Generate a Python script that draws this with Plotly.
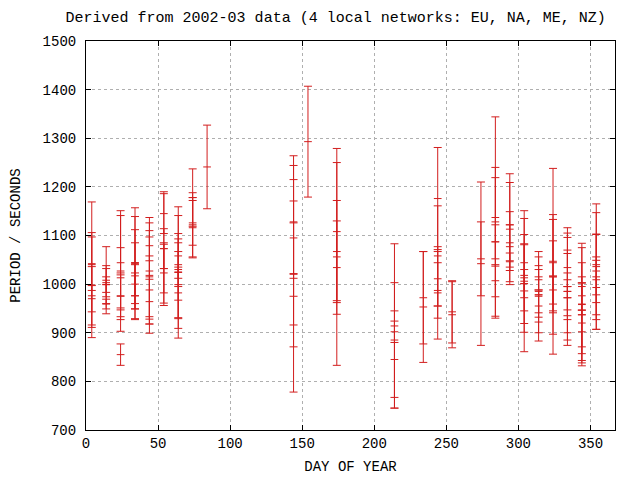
import plotly.graph_objects as go

# Day-of-year columns and (period, error) readings for each column
days = [4, 14, 24, 34, 44, 54, 64, 74, 84, 144, 154, 174, 214, 234, 244, 254,
        274, 284, 294, 304, 314, 324, 334, 344, 354]

periods = [
    [1040, 998, 976, 970, 1042],
    [1008, 999, 1003, 999, 959],
    [1027, 1013, 1044, 976, 975, 855],
    [1042, 1044, 1000, 976, 1044, 1017],
    [1018, 1027, 1079, 1015, 988, 964],
    [1073, 1145, 1073, 1023, 1032],
    [1024, 1025, 1030, 1058, 999, 1040, 982],
    [1178, 1116, 1122, 1126],
    [1241],
    [1021, 1021, 1021, 1095, 1128],
    [1293],
    [1056, 1108, 1067, 1034],
    [914, 885, 845, 902],
    [953, 972],
    [1176, 982, 1058, 1011, 987],
    [943, 937],
    [1042, 1052],
    [1137, 1087, 1128, 1007, 1087],
    [1113, 1085, 1046, 1077, 1122],
    [1006, 1018, 1044, 1001, 1013, 1001],
    [975, 978, 985, 978, 1009, 955],
    [1047, 1015, 1044, 1015, 988],
    [995, 995, 985, 1034, 985, 995, 972],
    [958, 959, 937, 902, 976, 920, 995],
    [1036, 1027, 1015, 1040, 993, 1009],
]

errors = [
    [129, 108, 60, 27, 55],
    [69, 39, 29, 16, 10],
    [124, 62, 97, 43, 48, 22],
    [115, 95, 40, 47, 68, 68],
    [119, 99, 31, 82, 70, 46],
    [117, 41, 41, 62, 50],
    [135, 116, 63, 46, 68, 45, 53],
    [59, 62, 66, 46],
    [86],
    [243, 105, 150, 120, 116],
    [114],
    [223, 142, 105, 96],
    [169, 118, 100, 22],
    [114, 95],
    [105, 95, 103, 56, 57],
    [64, 68],
    [168, 76],
    [207, 153, 91, 33, 35],
    [114, 37, 18, 72, 87],
    [145, 117, 58, 82, 68, 29],
    [92, 78, 53, 37, 21, 33],
    [191, 118, 99, 74, 29],
    [121, 110, 85, 62, 38, 68, 37],
    [126, 116, 66, 45, 39, 82, 49],
    [129, 120, 88, 62, 56, 47],
]

title_text = "Derived from 2002-03 data (4 local networks: EU, NA, ME, NZ)"
x_title = "DAY OF YEAR"
y_title = "PERIOD / SECONDS"

xs, ys, es = [], [], []
for d, ps, er in zip(days, periods, errors):
    for p, e in zip(ps, er):
        xs.append(d)
        ys.append(p)
        es.append(e)

red = "rgb(210,30,30)"
font_family = "Liberation Mono, DejaVu Sans Mono, monospace"

fig = go.Figure()
fig.add_trace(go.Scatter(
    x=xs, y=ys, mode="markers",
    marker=dict(symbol="line-ew", size=5.5, line=dict(width=1, color=red), color=red),
    error_y=dict(type="data", array=es, symmetric=True, color=red, thickness=1, width=4),
    showlegend=False, hoverinfo="x+y",
))

axis_common = dict(
    showline=True, linecolor="black", linewidth=1, mirror="ticks",
    ticks="inside", ticklen=5, tickcolor="black",
    showgrid=True, gridcolor="rgb(175,175,175)", gridwidth=1, griddash="dot",
    zeroline=False, tickfont=dict(family=font_family, size=14, color="black"),
)

fig.update_layout(
    width=617, height=478,
    margin=dict(l=86, r=2, t=41, b=48),
    paper_bgcolor="white", plot_bgcolor="white",
    font=dict(family=font_family, size=14, color="black"),
    title=dict(text=title_text, x=0.544, xanchor="center", y=0.965, yanchor="middle",
               font=dict(family=font_family, size=15, color="black")),
    xaxis=dict(range=[0, 367], dtick=50, tick0=0,
               title=dict(text=x_title, standoff=10, font=dict(family=font_family, size=14)),
               **axis_common),
    yaxis=dict(range=[700, 1500], dtick=100, tick0=700,
               title=dict(text=y_title, standoff=18, font=dict(family=font_family, size=14)),
               ticklabelstandoff=6,
               **axis_common),
)

fig.write_html("out.html")
